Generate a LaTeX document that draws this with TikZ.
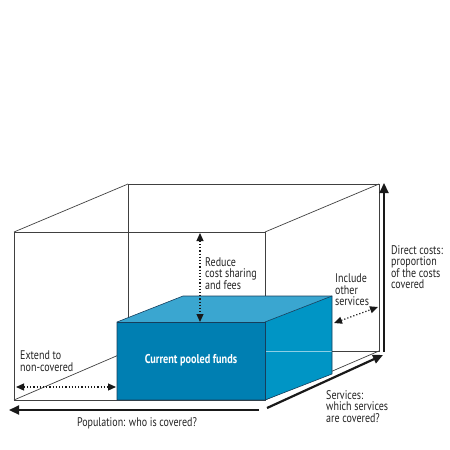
\documentclass[tikz,border=0pt]{standalone}
\usepackage{fontspec}
\setmainfont[FakeStretch=0.8]{PT Sans}
\usepackage{xcolor}
\usetikzlibrary{arrows.meta}

\definecolor{poolfront}{RGB}{0,127,178}
\definecolor{pooltop}{RGB}{58,166,208}
\definecolor{poolside}{RGB}{0,149,197}
\definecolor{pooledge}{RGB}{22,62,92}
\definecolor{labeltext}{RGB}{35,35,35}

\tikzset{
  boxline/.style={draw=black!75, line width=0.7pt},
  axisarrow/.style={draw=black!90, line width=2.2pt, -{Triangle[length=10pt,width=9pt]}},
  movearrow/.style={draw=black!90, line width=1.2pt, dotted,
    {Triangle[length=8pt,width=7pt]}-{Triangle[length=8pt,width=7pt]}},
  lbl/.style={inner sep=0pt, align=left, text=labeltext,
    font=\fontsize{12.5}{11.5}\selectfont},
}

\begin{document}
\begin{tikzpicture}[x=1pt,y=-1pt]
\useasboundingbox (0,0) rectangle (450,450);

% OUTER BOX %
%%%%%%%%%%%%  corners %%%%%%%%%%%%%
{
\coordinate (ftl) at (14,232);
\coordinate (ftr) at (265,232);
\coordinate (fbl) at (14,400);
\coordinate (fbr) at (265,400);
\coordinate (btl) at (128,184);
\coordinate (btr) at (379,184);
\coordinate (bbl) at (128,351);
\coordinate (bbr) at (379,351);
}
% edges
{
\draw[boxline] (fbl) -- (ftl) -- (ftr) -- (fbr) -- cycle;
\draw[boxline] (btl) -- (btr) -- (bbr) -- (bbl) -- cycle;
\draw[boxline] (ftl) -- (btl);
\draw[boxline] (ftr) -- (btr);
\draw[boxline] (fbl) -- (bbl);
\draw[boxline] (fbr) -- (bbr);
}

% POOLED FUNDS %
%%%%%%%%%%%%  corners %%%%%%%%%%%%%
{
\coordinate (ptl) at (117,322);
\coordinate (ptr) at (265,322);
\coordinate (pbl) at (117,400);
\coordinate (pbr) at (265,400);
\coordinate (qtl) at (183,296);
\coordinate (qtr) at (332,296);
\coordinate (qbr) at (332,374);
}
% colors
{
\fill[pooltop] (ptl) -- (qtl) -- (qtr) -- (ptr) -- cycle;
\fill[poolside] (ptr) -- (qtr) -- (qbr) -- (pbr) -- cycle;
\fill[poolfront] (ptl) rectangle (pbr);

\draw[white!55!poolside, line width=0.6pt] (265,351) -- (332,351);

\draw[pooledge, line width=0.6pt] (pbl) -- (ptl) -- (qtl) -- (qtr) -- (qbr) -- (pbr) -- cycle;
\draw[pooledge, line width=0.6pt] (ptl) -- (ptr) -- (pbr);
\draw[pooledge, line width=0.6pt] (ptr) -- (qtr);
}

\node[lbl, text=white, font=\fontsize{12.8}{12.8}\selectfont\bfseries] (pooled) at (191,360) {Current pooled funds};

% AXES %
{
\coordinate (cost-tail) at (384,352);
\coordinate (cost-tip) at (384,183);
\coordinate (serv-tail) at (267,408);
\coordinate (serv-tip) at (383,355);
\coordinate (pop-tail) at (259,410);
\coordinate (pop-tip) at (9,410);

\draw[axisarrow] (cost-tail) -- (cost-tip);
\draw[axisarrow] (serv-tail) -- (serv-tip);
\draw[axisarrow] (pop-tail) -- (pop-tip);
}

% dotted moves
{
\coordinate (ext-a) at (16,387);
\coordinate (ext-b) at (116,387);
\coordinate (red-a) at (200,233);
\coordinate (red-b) at (200,322);
\coordinate (inc-a) at (334,323);
\coordinate (inc-b) at (378,307);

\draw[movearrow] (ext-a) -- (ext-b);
\draw[movearrow] (red-a) -- (red-b);
\draw[movearrow] (inc-a) -- (inc-b);
}

% labellings
{
\node[lbl, anchor=north west] (reduce) at (205,257) {Reduce\\cost sharing\\and fees};
\node[lbl, anchor=north west] (include) at (335,274) {Include\\other\\services};
\node[lbl, anchor=north west] (direct) at (391,245) {Direct costs:\\proportion\\of the costs\\covered};
\node[lbl, anchor=north west] (extend) at (20,351) {Extend to\\non-covered};
\node[lbl, anchor=north west] (services) at (326,390) {Services:\\which services\\are covered?};
\node[lbl] (population) at (137,423) {Population: who is covered?};
}

\end{tikzpicture}
\end{document}
